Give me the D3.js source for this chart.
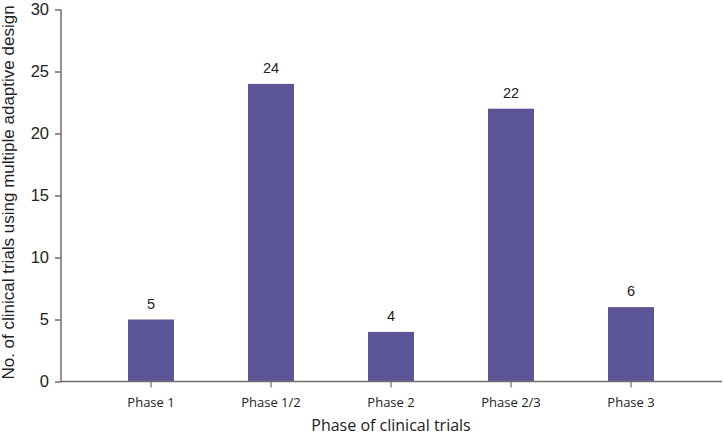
<!DOCTYPE html>
<html>
<head>
<meta charset="utf-8">
<script src="https://cdn.jsdelivr.net/npm/d3@7"></script>
<style>
  html, body { margin: 0; padding: 0; background: #fff; }
  svg { display: block; }
</style>
</head>
<body>
<svg id="chart" width="723" height="435"></svg>
<script>
const categories = ["Phase 1", "Phase 1/2", "Phase 2", "Phase 2/3", "Phase 3"];
const values = [5, 24, 4, 22, 6];
const yTicks = [0, 5, 10, 15, 20, 25, 30];
const xTitle = "Phase of clinical trials";
const yTitle = "No. of clinical trials using multiple adaptive design";

const svg = d3.select("#chart");
const axisColor = "#6e6e6e";
const barColor = "#5b5597";

const y = d3.scaleLinear().domain([0, 30]).range([381.5, 9.5]);
const x = d3.scaleBand().domain(categories).range([91, 691])
  .paddingInner(0.6167).paddingOuter(0.3083);

// bars
svg.append("g").selectAll("rect").data(values).join("rect")
  .attr("x", (d, i) => x(categories[i]))
  .attr("width", x.bandwidth())
  .attr("y", d => y(d))
  .attr("height", d => y(0) - y(d))
  .attr("fill", barColor);

// value labels
svg.append("g").selectAll("text").data(values).join("text")
  .attr("x", (d, i) => x(categories[i]) + x.bandwidth() / 2)
  .attr("y", d => y(d) - 11)
  .attr("text-anchor", "middle")
  .attr("font-family", "Liberation Sans, Arial, sans-serif")
  .attr("font-size", 14.5)
  .attr("fill", "#222")
  .text(d => d);

// y axis
const yAxis = svg.append("g").attr("transform", "translate(61,0)")
  .call(d3.axisLeft(y).tickValues(yTicks).tickSize(6).tickPadding(6));
yAxis.selectAll("text")
  .attr("font-family", "Liberation Sans, Arial, sans-serif")
  .attr("font-size", 16.5).attr("fill", "#222");
yAxis.selectAll("line").attr("stroke", axisColor).attr("stroke-width", 1.5);
yAxis.select(".domain").attr("stroke", axisColor).attr("stroke-width", 1.5)
  .attr("d", `M0,${y(30)}V${y(0)}`);

// x axis
const xAxis = svg.append("g").attr("transform", `translate(0,${y(0)})`)
  .call(d3.axisBottom(x).tickSize(6).tickPadding(10));
xAxis.select(".domain").attr("stroke", axisColor).attr("stroke-width", 1.5)
  .attr("d", "M61,0H722");
xAxis.selectAll(".tick line").attr("stroke", axisColor).attr("stroke-width", 1.2);
xAxis.selectAll("text")
  .attr("font-family", "Open Sans, sans-serif")
  .attr("font-size", 13).attr("fill", "#222");

// titles
svg.append("text")
  .attr("x", 391).attr("y", 430.5)
  .attr("text-anchor", "middle")
  .attr("font-family", "Open Sans, sans-serif")
  .attr("font-size", 16).attr("fill", "#222")
  .text(xTitle);

svg.append("text")
  .attr("transform", "translate(14,192.5) rotate(-90)")
  .attr("text-anchor", "middle")
  .attr("font-family", "Liberation Sans, Arial, sans-serif")
  .attr("font-size", 17).attr("fill", "#222")
  .text(yTitle);
</script>
</body>
</html>
